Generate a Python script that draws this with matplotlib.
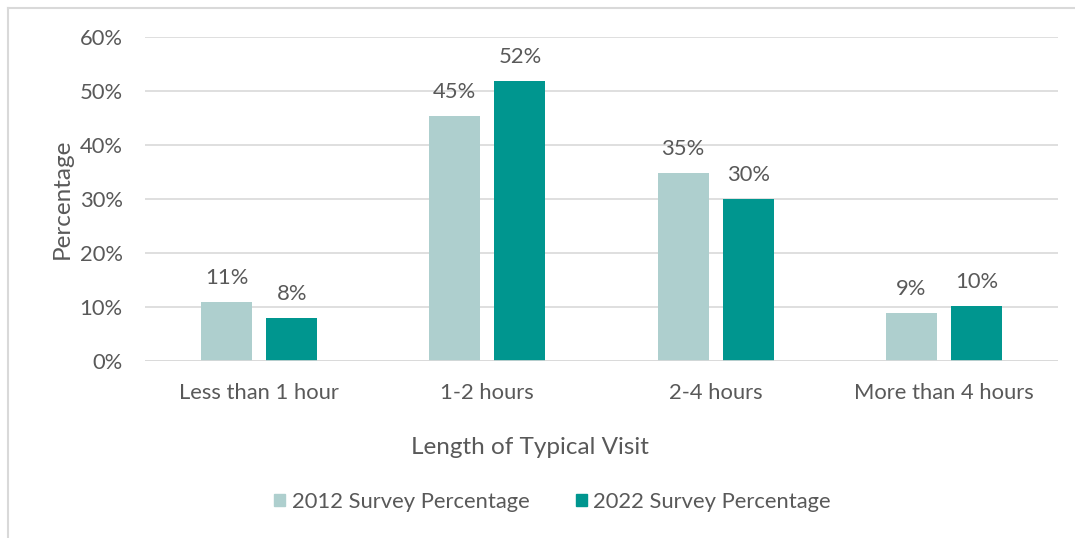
import numpy as np
import matplotlib.pyplot as plt
from matplotlib.lines import Line2D

categories = ['Less than 1 hour', '1-2 hours', '2-4 hours', 'More than 4 hours']
pct_2012 = [10.9, 45.4, 34.8, 8.9]
pct_2022 = [7.96, 51.9, 30.0, 10.2]
series_names = ['2012 Survey Percentage', '2022 Survey Percentage']

plt.rcParams['font.family'] = ['Lato', 'DejaVu Sans']
txt = '#595959'
light = '#AECFCE'
dark = '#00968F'
fs = 15.8

fig = plt.figure(figsize=(10.75, 5.38), dpi=100)
ax = fig.add_axes([145/1075, 1 - 361/538, 913/1075, 324/538])

x = np.arange(len(categories))
w = 0.224
off = 0.1425
b1 = ax.bar(x - off, pct_2012, w, color=light, label=series_names[0], zorder=3)
b2 = ax.bar(x + off, pct_2022, w, color=dark, label=series_names[1], zorder=3)

for bars, vals in [(b1, pct_2012), (b2, pct_2022)]:
    for b, v in zip(bars, vals):
        ax.text(b.get_x() + b.get_width()/2, v + 2.6, '{:.0f}%'.format(v),
                ha='center', va='bottom', fontsize=fs, color=txt)

ax.set_xlim(-0.5, 3.5)
ax.set_ylim(0, 60)
ax.set_yticks(range(0, 61, 10))
ax.set_yticklabels(['{}%'.format(t) for t in range(0, 61, 10)], fontsize=fs, color=txt)
ax.set_xticks(x)
ax.set_xticklabels(categories, fontsize=fs, color=txt)
ax.tick_params(axis='y', length=0, pad=16)
ax.tick_params(axis='x', length=0, pad=16)
ax.yaxis.grid(True, color='#D9D9D9', linewidth=1.2, zorder=0)
for s in ax.spines.values():
    s.set_visible(False)
ax.axhline(0, color='#D9D9D9', linewidth=1.2, zorder=4)

ax.set_ylabel('Percentage', fontsize=17.5, color=txt, labelpad=5)
ax.set_xlabel('Length of Typical Visit', fontsize=17.5, color=txt, labelpad=24)
ax.xaxis.set_label_coords(0.422, -0.235)

handles = [plt.Rectangle((0, 0), 1, 1, color=light), plt.Rectangle((0, 0), 1, 1, color=dark)]
fig.legend(handles, series_names, loc='center', bbox_to_anchor=(0.5 + 15/1075, 1 - 502/538),
           ncol=2, frameon=False, fontsize=fs, labelcolor=txt,
           handlelength=0.5, handleheight=0.5, handletextpad=0.3, columnspacing=2.1)

# outer frame (left and top edges)
fig.add_artist(Line2D([8/1075, 8/1075], [0, 1 - 8/538], color='#D9D9D9', linewidth=1.5,
                      transform=fig.transFigure))
fig.add_artist(Line2D([8/1075, 1], [1 - 8/538, 1 - 8/538], color='#D9D9D9', linewidth=1.5,
                      transform=fig.transFigure))

fig.savefig('out.png', dpi=100)
